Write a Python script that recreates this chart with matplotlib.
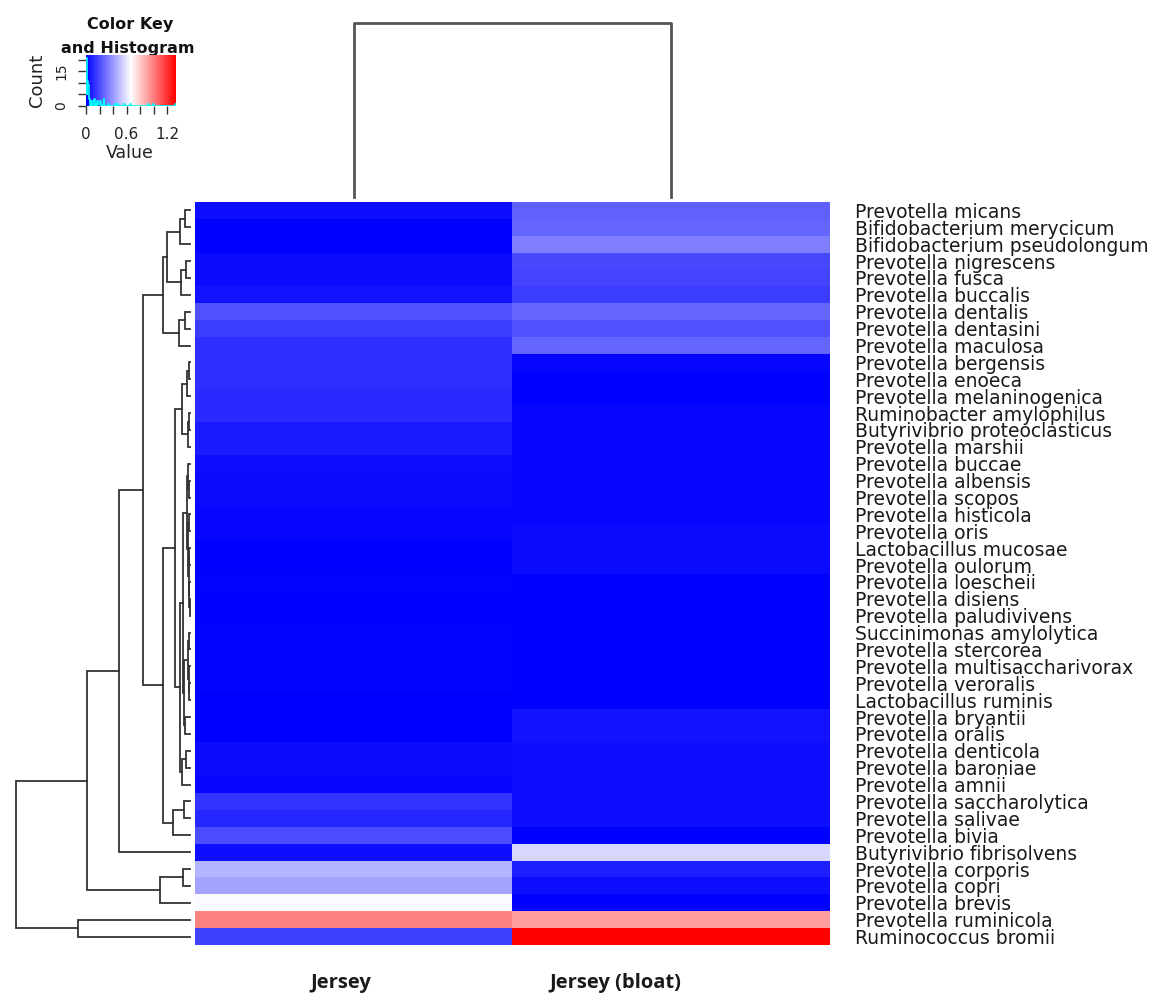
import numpy as np
import matplotlib
matplotlib.use("Agg")
import matplotlib.pyplot as plt
from matplotlib.colors import LinearSegmentedColormap

# ---------------------------------------------------------------- data
species = [
    "Prevotella micans", "Bifidobacterium merycicum", "Bifidobacterium pseudolongum",
    "Prevotella nigrescens", "Prevotella fusca", "Prevotella buccalis",
    "Prevotella dentalis", "Prevotella dentasini", "Prevotella maculosa",
    "Prevotella bergensis", "Prevotella enoeca", "Prevotella melaninogenica",
    "Ruminobacter amylophilus", "Butyrivibrio proteoclasticus", "Prevotella marshii",
    "Prevotella buccae", "Prevotella albensis", "Prevotella scopos",
    "Prevotella histicola", "Prevotella oris", "Lactobacillus mucosae",
    "Prevotella oulorum", "Prevotella loescheii", "Prevotella disiens",
    "Prevotella paludivivens", "Succinimonas amylolytica", "Prevotella stercorea",
    "Prevotella multisaccharivorax", "Prevotella veroralis", "Lactobacillus ruminis",
    "Prevotella bryantii", "Prevotella oralis", "Prevotella denticola",
    "Prevotella baroniae", "Prevotella amnii", "Prevotella saccharolytica",
    "Prevotella salivae", "Prevotella bivia", "Butyrivibrio fibrisolvens",
    "Prevotella corporis", "Prevotella copri", "Prevotella brevis",
    "Prevotella ruminicola", "Ruminococcus bromii",
]

samples = ["Jersey", "Jersey (bloat)"]

jersey = [
    0.04, 0.00, 0.00, 0.03, 0.03, 0.05, 0.21, 0.16, 0.12,
    0.12, 0.12, 0.11, 0.11, 0.07, 0.07, 0.04, 0.03, 0.03,
    0.02, 0.02, 0.00, 0.00, 0.01, 0.00, 0.00, 0.01, 0.01,
    0.01, 0.01, 0.00, 0.00, 0.00, 0.03, 0.03, 0.02, 0.14,
    0.10, 0.20, 0.04, 0.47, 0.43, 0.65, 0.99, 0.17,
]

jersey_bloat = [
    0.25, 0.26, 0.33, 0.19, 0.18, 0.16, 0.26, 0.21, 0.26,
    0.02, 0.00, 0.00, 0.02, 0.02, 0.02, 0.02, 0.02, 0.02,
    0.02, 0.03, 0.03, 0.03, 0.00, 0.00, 0.00, 0.00, 0.00,
    0.00, 0.00, 0.00, 0.05, 0.05, 0.04, 0.04, 0.04, 0.04,
    0.04, 0.00, 0.56, 0.08, 0.04, 0.00, 0.92, 1.33,
]

# row clustering tree: [left, right, merge height], leaves are row indices
row_tree = [
    [
        [
            [
                [
                    [[[0, 1, 0.029], 2, 0.057], [[3, 4, 0.023], 5, 0.052], 0.134],
                    [[6, 7, 0.029], 8, 0.063],
                    0.155,
                ],
                [
                    [
                        [[[9, 10, 0.008], 11, 0.015], [[12, 13, 0.006], 14, 0.014], 0.046],
                        [
                            [
                                [[15, [16, 17, 0.004], 0.009],
                                 [[18, 19, 0.006], [[20, 21, 0.003], [22, [23, 24, 0.002], 0.005], 0.008], 0.011],
                                 0.016],
                                [[[25, 26, 0.003], [27, [28, 29, 0.004], 0.007], 0.010], [30, 31, 0.029], 0.034],
                                0.040,
                            ],
                            [[32, 33, 0.023], 34, 0.046],
                            0.057,
                        ],
                        0.086,
                    ],
                    [[35, 36, 0.035], 37, 0.098],
                    0.155,
                ],
                0.27,
            ],
            38,
            0.408,
        ],
        [[39, 40, 0.04], 41, 0.172],
        0.592,
    ],
    [42, 43, 0.644],
    1.0,
]

# column clustering tree
col_tree = [0, 1, 1.0]

value_min, value_max = 0.0, 1.33
key_ticks = [0.0, 0.2, 0.4, 0.6, 0.8, 1.0, 1.2]
key_tick_labels = ["0", "", "", "0.6", "", "", "1.2"]
count_ticks = [0, 5, 10, 15, 20]
count_tick_labels = ["0", "", "", "15", ""]
hist_breaks = np.linspace(value_min, value_max, 134)

# ---------------------------------------------------------------- helpers
W, H = 1164, 999


def rect(x0, y0, x1, y1):
    return [x0 / W, 1 - y1 / H, (x1 - x0) / W, (y1 - y0) / H]


def dendro_segments(node):
    """Return (position, height, segments) for a nested merge tree."""
    if isinstance(node, int):
        return node + 0.5, 0.0, []
    left, right, h = node
    pl, hl, sl = dendro_segments(left)
    pr, hr, sr = dendro_segments(right)
    seg = ([hl, h, h, hr], [pl, pl, pr, pr])
    return (pl + pr) / 2, h, sl + sr + [seg]


cmap = LinearSegmentedColormap.from_list("bluered", ["#0000FF", "#FFFFFF", "#FF0000"], N=256)
data = np.column_stack([jersey, jersey_bloat])
n_rows, n_cols = data.shape

fig = plt.figure(figsize=(W / 100, H / 100), dpi=100)
fig.patch.set_facecolor("white")

# ---------------------------------------------------------------- heatmap
ax = fig.add_axes(rect(195, 202, 830, 945))
ax.pcolormesh(np.arange(n_cols + 1), np.arange(n_rows + 1), data,
              cmap=cmap, vmin=value_min, vmax=value_max, shading="flat")
ax.set_xlim(0, n_cols)
ax.set_ylim(n_rows, 0)
ax.set_xticks([])
ax.yaxis.tick_right()
ax.set_yticks(np.arange(n_rows) + 0.5)
ax.set_yticklabels(species, fontsize=13.5, color="#1a1a1a", family="DejaVu Sans")
ax.tick_params(axis="y", length=0, pad=18)
for s in ax.spines.values():
    s.set_visible(False)

# column names
label_x = [341, 615]
for name, px in zip(samples, label_x):
    fig.text(px / W, 1 - 983 / H, name, ha="center", va="center",
             fontsize=14.5, fontweight="bold", family="Open Sans", color="#1a1a1a")

# ---------------------------------------------------------------- row dendrogram
axr = fig.add_axes(rect(8, 202, 195, 945))
for hs, ps in dendro_segments(row_tree)[2]:
    axr.plot(hs, ps, color="#333333", lw=1.3, solid_joinstyle="miter")
axr.set_xlim((190 - 8) / 174, (190 - 195) / 174)
axr.set_ylim(n_rows, 0)
axr.axis("off")

# ---------------------------------------------------------------- column dendrogram
axc = fig.add_axes(rect(195, 8, 830, 202))
for hs, ps in dendro_segments(col_tree)[2]:
    axc.plot(ps, hs, color="#555555", lw=2.0)
axc.set_xlim(0, n_cols)
axc.set_ylim((197 - 202) / 174, (197 - 8) / 174)
axc.axis("off")

# ---------------------------------------------------------------- colour key with histogram
all_values = data.ravel()
counts, edges = np.histogram(all_values, bins=hist_breaks)
ymax = counts.max() / 0.95

axk = fig.add_axes(rect(86, 55, 176, 106), zorder=5)
grad = np.linspace(value_min, value_max, 256).reshape(1, -1)
axk.imshow(grad, cmap=cmap, vmin=value_min, vmax=value_max, aspect="auto",
           extent=[value_min, value_max, 0, ymax], origin="lower")
axk.step(edges, np.append(counts, counts[-1]), where="post", color="#00FFFF", lw=1.2)
axk.set_xlim(value_min, value_max)
axk.set_ylim(0, ymax)
axk.set_xticks(key_ticks)
axk.set_xticklabels(key_tick_labels, fontsize=11, family="DejaVu Sans", color="#222222")
axk.set_yticks(count_ticks)
axk.set_yticklabels(count_tick_labels, fontsize=10, family="DejaVu Sans", color="#222222",
                    rotation=90, va="center")
axk.tick_params(axis="x", length=6, width=1, pad=9, color="#333333")
axk.tick_params(axis="y", length=6, width=1, pad=7, color="#333333")
for s in axk.spines.values():
    s.set_visible(False)

fig.text(130 / W, 1 - 25 / H, "Color Key", ha="center", va="center",
         fontsize=11.5, fontweight="bold", family="DejaVu Sans", color="#111111")
fig.text(128 / W, 1 - 48 / H, "and Histogram", ha="center", va="center",
         fontsize=11.5, fontweight="bold", family="DejaVu Sans", color="#111111")
fig.text(37 / W, 1 - 80 / H, "Count", ha="center", va="center", rotation=90,
         fontsize=13, family="DejaVu Sans", color="#222222")
fig.text(130 / W, 1 - 153 / H, "Value", ha="center", va="center",
         fontsize=12.5, family="DejaVu Sans", color="#222222")

fig.savefig("out.png", dpi=100, facecolor="white")
